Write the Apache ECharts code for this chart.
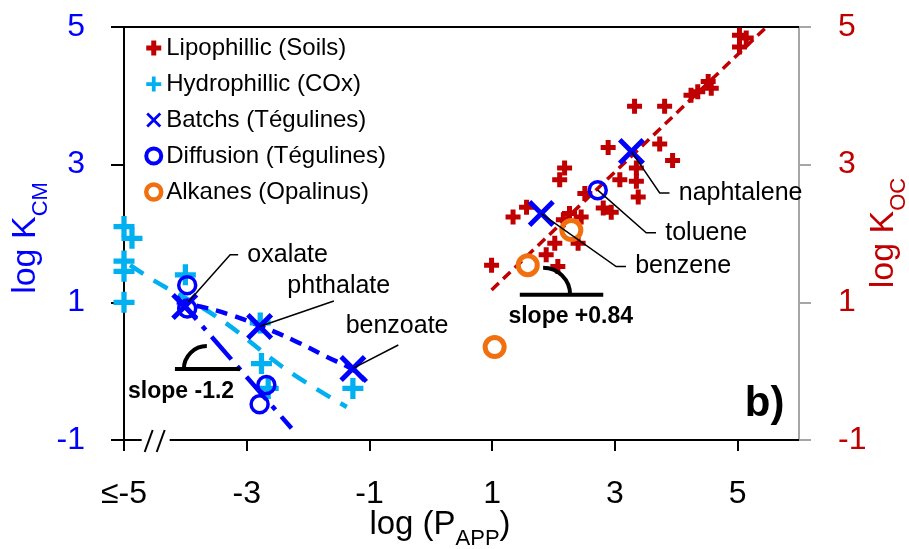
<!DOCTYPE html>
<html>
<head>
<meta charset="utf-8">
<script src="https://cdn.jsdelivr.net/npm/echarts@6/dist/echarts.min.js"></script>
<style>
  html, body { margin: 0; padding: 0; background: #fff; }
  #chart { width: 909px; height: 549px; }
</style>
</head>
<body>
<div id="chart"></div>
<script>
// data: [log P_APP, log K]
var lipophillic = [
  [5.03, 4.88], [5.14, 4.84], [5.03, 4.71],
  [4.52, 4.21], [4.57, 4.11], [4.35, 4.06], [4.24, 4.01],
  [3.32, 3.85], [3.81, 3.85],
  [2.89, 3.25], [3.73, 3.30], [3.94, 3.06],
  [3.35, 2.95], [3.35, 2.76], [3.38, 2.53], [3.08, 2.78],
  [2.18, 2.95], [2.10, 2.78], [2.51, 2.58],
  [2.81, 2.37], [2.94, 2.31], [2.26, 2.29], [2.45, 2.24], [2.16, 2.20],
  [1.34, 2.24], [1.56, 2.38],
  [2.02, 1.86], [2.40, 1.86], [1.88, 1.69], [2.07, 1.52], [0.99, 1.54]
];
var hydrophillic = [
  [-5.0, 2.10], [-4.87, 1.93], [-5.0, 1.60], [-5.0, 1.45], [-5.0, 1.00],
  [-4.0, 1.40], [-2.78, 0.70], [-2.76, 0.11], [-2.65, -0.25], [-1.27, -0.25]
];
var batchs = [[-4.01, 0.94], [-2.79, 0.65], [-1.27, 0.04], [1.80, 2.29], [3.27, 3.19]];
var diffusion = [[-3.97, 1.25], [-3.97, 0.91], [-2.68, -0.20], [-2.79, -0.48], [2.72, 2.63]];
var alkanes = [[2.29, 2.05], [1.58, 1.54], [1.04, 0.35]];

// trend lines as drawn
var fitLipo = [[0.99, 1.18], [5.47, 5.0]];
var fitBatch = [[-4.14, 1.0], [-3.76, 0.94], [-3.27, 0.82], [-2.79, 0.66], [-2.24, 0.45], [-1.70, 0.21], [-1.27, 0.02], [-1.05, -0.15]];
var fitHydro = [[-4.9, 1.54], [-4.52, 1.32], [-3.49, 0.79], [-2.35, 0.02], [-1.37, -0.52]];
var fitDiffusion = [[-4.14, 1.08], [-2.27, -0.83]];

var xTicks = [-5, -3, -1, 1, 3, 5];
var yTicks = [-1, 1, 3, 5];
var seriesNames = ['Lipophillic (Soils)', 'Hydrophillic (COx)', 'Batchs (Tégulines)', 'Diffusion (Tégulines)', 'Alkanes (Opalinus)'];

// name labels: [name, point, elbow, text anchor]
var callouts = [
  ['oxalate', [-3.95, 1.01], [-3.27, 1.69], [-3.14, 1.69]],
  ['naphtalene', [3.27, 3.19], [3.73, 2.59], [3.89, 2.59]],
  ['toluene', [2.72, 2.63], [3.51, 2.01], [3.67, 2.01]],
  ['benzene', [1.80, 2.29], [3.02, 1.52], [3.18, 1.52]]
];

var plusThick = 'path://M4,0h4v4h4v4h-4v4h-4v-4h-4v-4h4z';
var plusThin = 'path://M3,0h2v3h3v2h-3v3h-2v-3h-3v-2h3z';
var crossX = 'path://M0,2.6L2.6,0L10,7.4L17.4,0L20,2.6L12.6,10L20,17.4L17.4,20L10,12.6L2.6,20L0,17.4L7.4,10Z';

var RED = '#c00000', CYAN = '#00b0f0', BLUE = '#0000ff', ORANGE = '#f0700f';
var FONT = 'Liberation Sans';

var myChart = echarts.init(document.getElementById('chart'));

function scatter(name, data, symbol, size, itemStyle) {
  itemStyle.opacity = 1;
  return {
    name: name, type: 'scatter', data: data, symbol: symbol, symbolSize: size,
    itemStyle: itemStyle, silent: true, z: 3
  };
}
function trend(data, color, width, dash, smooth) {
  return {
    type: 'line', data: data, showSymbol: false, symbol: 'none', smooth: smooth ? 0.4 : false,
    lineStyle: { color: color, width: width, type: dash }, silent: true, z: 2
  };
}

var option = {
  animation: false,
  textStyle: { fontFamily: FONT },
  grid: { left: 124, right: 110, top: 27, bottom: 109 },
  legend: {
    orient: 'vertical', left: 139, top: 31,
    itemWidth: 15, itemHeight: 15, itemGap: 12,
    textStyle: { fontSize: 24, color: '#000', fontFamily: FONT },
    selectedMode: false,
    data: [
      { name: seriesNames[0], icon: plusThick },
      { name: seriesNames[1], icon: plusThin },
      { name: seriesNames[2], icon: crossX },
      { name: seriesNames[3], icon: 'circle', itemStyle: { borderWidth: 4 } },
      { name: seriesNames[4], icon: 'circle', itemStyle: { borderWidth: 4.5 } }
    ]
  },
  xAxis: [{
    type: 'value', min: -5, max: 6, interval: 2,
    axisLine: { onZero: false, lineStyle: { color: '#000', width: 2 } },
    axisTick: { length: 11, lineStyle: { color: '#000', width: 2 }, customValues: xTicks },
    axisLabel: {
      fontSize: 32, color: '#000', margin: 38, customValues: xTicks,
      formatter: function (v) { return v === -5 ? '≤-5' : String(v); }
    },
    splitLine: { show: false }
  }, {
    type: 'value', position: 'top', min: -5, max: 6,
    axisLine: { show: true, onZero: false, lineStyle: { color: '#000', width: 2 } },
    axisTick: { show: false }, axisLabel: { show: false }, splitLine: { show: false }
  }],
  yAxis: [{
    type: 'value', min: -1, max: 5, interval: 2,
    axisLine: { show: true, onZero: false, lineStyle: { color: '#000', width: 2 } },
    axisTick: { length: 13, lineStyle: { color: '#000', width: 2 }, customValues: yTicks },
    axisLabel: { fontSize: 32, color: BLUE, margin: 39, customValues: yTicks },
    splitLine: { show: false }
  }, {
    type: 'value', position: 'right', min: -1, max: 5, interval: 2,
    axisLine: { show: true, onZero: false, lineStyle: { color: '#a6a6a6', width: 2 } },
    axisTick: { show: true, length: 12, lineStyle: { color: '#a6a6a6', width: 2 }, customValues: yTicks },
    axisLabel: { fontSize: 32, color: RED, margin: 39, customValues: yTicks },
    splitLine: { show: false }
  }],
  series: [
    trend(fitLipo, RED, 3.5, [10, 6], false),
    trend(fitHydro, CYAN, 4.5, [16, 12], true),
    trend(fitBatch, BLUE, 4.5, [12, 8], true),
    trend(fitDiffusion, BLUE, 4.5, [30, 9, 5, 9], false),
    scatter(seriesNames[0], lipophillic, plusThick, 15, { color: RED }),
    scatter(seriesNames[1], hydrophillic, plusThin, 21, { color: CYAN }),
    scatter(seriesNames[2], batchs, crossX, 27, { color: BLUE }),
    scatter(seriesNames[3], diffusion, 'circle', 17, { color: 'rgba(255,255,255,0)', borderColor: BLUE, borderWidth: 3.5 }),
    scatter(seriesNames[4], alkanes, 'circle', 19, { color: 'rgba(255,255,255,0)', borderColor: ORANGE, borderWidth: 5 })
  ]
};
myChart.setOption(option);

// annotations placed through the axes
function px(p) { return myChart.convertToPixel({ xAxisIndex: 0, yAxisIndex: 0 }, p); }
function label(text, at, align, size, bold) {
  var p = px(at);
  return {
    type: 'text', x: p[0], y: p[1], z: 10, silent: true,
    style: { text: text, fill: '#000', fontSize: size, fontWeight: bold ? 'bold' : 'normal', fontFamily: FONT, align: align, verticalAlign: 'middle' }
  };
}
function segment(points, width) {
  return {
    type: 'polyline', z: 10, silent: true,
    shape: { points: points.map(px) },
    style: { stroke: '#000', lineWidth: width, fill: null }
  };
}
function arc(center, r, a0, a1) {
  var c = px(center);
  return {
    type: 'arc', z: 10, silent: true,
    shape: { cx: c[0], cy: c[1], r: r, startAngle: a0, endAngle: a1, clockwise: true },
    style: { stroke: '#000', lineWidth: 4, fill: null }
  };
}

var graphics = [];
callouts.forEach(function (c) {
  graphics.push(segment([c[1], c[2], c[3]], 1.5));
  graphics.push(label(c[0], [c[3][0] + 0.15, c[3][1]], 'left', 25));
});
graphics.push(segment([[-2.79, 0.65], [-1.58, 1.02]], 1.5));
graphics.push(label('phthalate', [-1.5, 1.24], 'center', 25));
graphics.push(segment([[-1.27, 0.04], [-0.53, 0.38]], 1.5));
graphics.push(label('benzoate', [-0.55, 0.66], 'center', 25));

// slope marks
graphics.push(segment([[-4.17, 0.03], [-3.11, 0.03]], 4));
graphics.push(arc([-3.65, 0.03], 23, Math.PI, Math.PI * 1.5));
graphics.push(label('slope -1.2', [-4.07, -0.30], 'center', 23, true));
graphics.push(segment([[1.45, 1.11], [2.81, 1.11]], 4));
graphics.push(arc([1.83, 1.11], 27, Math.PI * 1.5, Math.PI * 2));
graphics.push(label('slope +0.84', [2.28, 0.79], 'center', 23, true));
graphics.push(label('b)', [5.44, -0.48], 'center', 42, true));

// axis break on the x axis
var br = px([-4.5, -1]);
graphics.push({
  type: 'rect', z: 20, silent: true,
  shape: { x: br[0] - 13, y: br[1] - 4, width: 28, height: 8 },
  style: { fill: '#fff' }
});
[-10, 2].forEach(function (d) {
  graphics.push({
    type: 'line', z: 21, silent: true,
    shape: { x1: br[0] + d, y1: br[1] + 12, x2: br[0] + d + 8, y2: br[1] - 10 },
    style: { stroke: '#000', lineWidth: 2 }
  });
});

// axis titles with subscripts
function title(text, x, y, color, rot, size) {
  return {
    type: 'text', x: x, y: y, rotation: rot, z: 10, silent: true,
    style: {
      text: text, align: 'center', verticalAlign: 'middle',
      rich: {
        a: { fontSize: size, fill: color, fontFamily: FONT, verticalAlign: 'bottom', padding: [0, 0, 9, 0] },
        b: { fontSize: 22, fill: color, fontFamily: FONT, verticalAlign: 'bottom' }
      }
    }
  };
}
graphics.push(title('{a|log K}{b|CM}', 30, 238, BLUE, Math.PI / 2, 34));
graphics.push(title('{a|log K}{b|OC}', 888, 233, RED, Math.PI / 2, 34));
graphics.push(title('{a|log (P}{b|APP}{a|)}', 440, 529, '#000', 0, 33));

myChart.setOption({ graphic: graphics });
</script>
</body>
</html>
